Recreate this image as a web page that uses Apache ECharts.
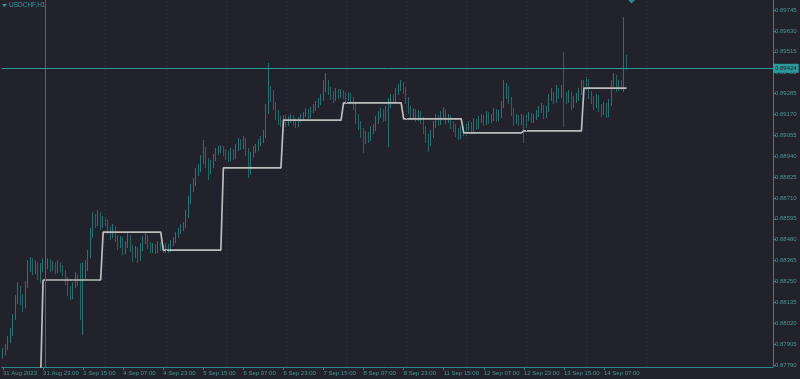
<!DOCTYPE html>
<html><head><meta charset="utf-8">
<script src="https://cdn.jsdelivr.net/npm/echarts@6/dist/echarts.min.js"></script>
<style>html,body{margin:0;padding:0;background:#22222c;}#c{width:800px;height:379px;}</style>
</head><body><div id="c"></div>
<script>
const symbolName = 'USDCHF,H1';
const tickLabels = ['31 Aug 2023','31 Aug 23:00','1 Sep 15:00','4 Sep 07:00','4 Sep 23:00','5 Sep 15:00','6 Sep 07:00','6 Sep 23:00','7 Sep 15:00','8 Sep 07:00','8 Sep 23:00','11 Sep 15:00','12 Sep 07:00','12 Sep 23:00','13 Sep 15:00','14 Sep 07:00'];
const priceTicks = [0.87790,0.87905,0.88020,0.88135,0.88250,0.88365,0.88480,0.88595,0.88710,0.88825,0.88940,0.89055,0.89170,0.89285,0.89400,0.89515,0.89630,0.89745];

const opens = [0.87844,0.87860,0.87882,0.87927,0.87965,0.88048,0.88147,0.88202,0.88158,0.88119,
0.88230,0.88323,0.88356,0.88312,0.88340,0.88301,0.88323,0.88345,0.88334,0.88356,
0.88323,0.88345,0.88312,0.88345,0.88323,0.88301,0.88257,0.88202,0.88169,0.88230,
0.88268,0.88246,0.88147,0.88285,0.88323,0.88395,0.88505,0.88599,0.88577,0.88615,
0.88560,0.88588,0.88577,0.88533,0.88505,0.88544,0.88489,0.88450,0.88478,0.88423,
0.88450,0.88489,0.88434,0.88395,0.88423,0.88378,0.88434,0.88478,0.88489,0.88450,
0.88423,0.88445,0.88423,0.88456,0.88434,0.88423,0.88445,0.88423,0.88456,0.88478,
0.88505,0.88522,0.88544,0.88560,0.88615,0.88698,0.88764,0.88797,0.88852,0.88874,
0.88918,0.88974,0.88907,0.88863,0.88891,0.88929,0.88963,0.88974,0.88985,0.88963,
0.88946,0.88929,0.88963,0.88940,0.88985,0.89018,0.88996,0.89029,0.88974,0.88852,
0.88946,0.88974,0.88985,0.89012,0.89029,0.89056,0.89194,0.89293,0.89260,0.89221,
0.89166,0.89139,0.89128,0.89150,0.89122,0.89139,0.89150,0.89128,0.89111,0.89139,
0.89150,0.89166,0.89183,0.89166,0.89194,0.89205,0.89221,0.89238,0.89260,0.89315,
0.89348,0.89304,0.89277,0.89260,0.89293,0.89277,0.89293,0.89277,0.89260,0.89271,
0.89249,0.89221,0.89150,0.89111,0.89073,0.89029,0.89056,0.89040,0.89084,0.89095,
0.89139,0.89166,0.89183,0.89150,0.89194,0.89221,0.89260,0.89249,0.89293,0.89315,
0.89332,0.89304,0.89249,0.89194,0.89166,0.89183,0.89150,0.89172,0.89139,0.89084,
0.89040,0.89018,0.89056,0.89111,0.89150,0.89128,0.89166,0.89183,0.89139,0.89150,
0.89111,0.89095,0.89073,0.89056,0.89084,0.89073,0.89095,0.89111,0.89084,0.89128,
0.89106,0.89139,0.89150,0.89128,0.89166,0.89139,0.89150,0.89183,0.89150,0.89166,
0.89221,0.89277,0.89304,0.89249,0.89183,0.89139,0.89150,0.89128,0.89150,0.89111,
0.89150,0.89161,0.89139,0.89155,0.89172,0.89194,0.89205,0.89166,0.89194,0.89260,
0.89277,0.89249,0.89293,0.89277,0.89304,0.89271,0.89249,0.89277,0.89221,0.89249,
0.89260,0.89293,0.89332,0.89315,0.89348,0.89277,0.89249,0.89221,0.89260,0.89205,
0.89183,0.89216,0.89166,0.89233,0.89332,0.89370,0.89315,0.89337,0.89326,0.89458];

const closes = [0.87860,0.87882,0.87927,0.87965,0.88048,0.88147,0.88202,0.88158,0.88119,0.88230,
0.88323,0.88356,0.88312,0.88340,0.88301,0.88323,0.88345,0.88334,0.88356,0.88323,
0.88345,0.88312,0.88345,0.88323,0.88301,0.88257,0.88202,0.88169,0.88230,0.88268,
0.88246,0.88147,0.88285,0.88323,0.88395,0.88505,0.88599,0.88577,0.88615,0.88560,
0.88588,0.88577,0.88533,0.88505,0.88544,0.88489,0.88450,0.88478,0.88423,0.88450,
0.88489,0.88434,0.88395,0.88423,0.88378,0.88434,0.88478,0.88489,0.88450,0.88423,
0.88445,0.88423,0.88456,0.88434,0.88423,0.88445,0.88423,0.88456,0.88478,0.88505,
0.88522,0.88544,0.88560,0.88615,0.88698,0.88764,0.88797,0.88852,0.88874,0.88918,
0.88974,0.88907,0.88863,0.88891,0.88929,0.88963,0.88974,0.88985,0.88963,0.88946,
0.88929,0.88963,0.88940,0.88985,0.89018,0.88996,0.89029,0.88974,0.88852,0.88946,
0.88974,0.88985,0.89012,0.89029,0.89056,0.89194,0.89293,0.89260,0.89221,0.89166,
0.89139,0.89128,0.89150,0.89122,0.89139,0.89150,0.89128,0.89111,0.89139,0.89150,
0.89166,0.89183,0.89166,0.89194,0.89205,0.89221,0.89238,0.89260,0.89315,0.89348,
0.89304,0.89277,0.89260,0.89293,0.89277,0.89293,0.89277,0.89260,0.89271,0.89249,
0.89221,0.89150,0.89111,0.89073,0.89029,0.89056,0.89040,0.89084,0.89095,0.89139,
0.89166,0.89183,0.89150,0.89194,0.89221,0.89260,0.89249,0.89293,0.89315,0.89332,
0.89304,0.89249,0.89194,0.89166,0.89183,0.89150,0.89172,0.89139,0.89084,0.89040,
0.89018,0.89056,0.89111,0.89150,0.89128,0.89166,0.89183,0.89139,0.89150,0.89111,
0.89095,0.89073,0.89056,0.89084,0.89073,0.89095,0.89111,0.89084,0.89128,0.89106,
0.89139,0.89150,0.89128,0.89166,0.89139,0.89150,0.89183,0.89150,0.89166,0.89221,
0.89277,0.89304,0.89249,0.89183,0.89139,0.89150,0.89128,0.89150,0.89111,0.89150,
0.89161,0.89139,0.89155,0.89172,0.89194,0.89205,0.89166,0.89194,0.89260,0.89277,
0.89249,0.89293,0.89277,0.89304,0.89271,0.89249,0.89277,0.89221,0.89249,0.89260,
0.89293,0.89332,0.89315,0.89348,0.89277,0.89249,0.89221,0.89260,0.89205,0.89183,
0.89216,0.89166,0.89233,0.89332,0.89370,0.89315,0.89337,0.89326,0.89458,0.89424];

const highs = [0.87882,0.87905,0.87949,0.87993,0.88070,0.88175,0.88246,0.88224,0.88180,0.88252,
0.88367,0.88384,0.88378,0.88367,0.88356,0.88351,0.88378,0.88367,0.88378,0.88373,
0.88362,0.88356,0.88367,0.88356,0.88340,0.88312,0.88274,0.88224,0.88246,0.88301,
0.88290,0.88351,0.88356,0.88367,0.88423,0.88544,0.88632,0.88621,0.88643,0.88632,
0.88610,0.88604,0.88593,0.88555,0.88566,0.88555,0.88505,0.88500,0.88494,0.88472,
0.88516,0.88505,0.88450,0.88445,0.88439,0.88461,0.88500,0.88516,0.88505,0.88467,
0.88461,0.88456,0.88472,0.88467,0.88450,0.88461,0.88456,0.88478,0.88494,0.88522,
0.88544,0.88566,0.88577,0.88643,0.88720,0.88786,0.88819,0.88874,0.88896,0.88946,
0.89029,0.88990,0.88929,0.88918,0.88952,0.88985,0.88996,0.89001,0.88996,0.88979,
0.88968,0.88985,0.88979,0.89007,0.89040,0.89034,0.89051,0.89040,0.88985,0.88963,
0.88996,0.89007,0.89034,0.89051,0.89084,0.89227,0.89453,0.89326,0.89304,0.89238,
0.89194,0.89161,0.89166,0.89166,0.89161,0.89172,0.89166,0.89150,0.89155,0.89172,
0.89183,0.89205,0.89199,0.89210,0.89227,0.89244,0.89260,0.89282,0.89359,0.89398,
0.89359,0.89321,0.89299,0.89315,0.89310,0.89310,0.89304,0.89293,0.89293,0.89288,
0.89266,0.89233,0.89172,0.89133,0.89095,0.89078,0.89073,0.89106,0.89117,0.89161,
0.89188,0.89205,0.89199,0.89216,0.89260,0.89282,0.89282,0.89315,0.89337,0.89359,
0.89348,0.89321,0.89266,0.89216,0.89205,0.89199,0.89194,0.89188,0.89155,0.89106,
0.89062,0.89084,0.89133,0.89172,0.89166,0.89188,0.89210,0.89199,0.89172,0.89166,
0.89133,0.89117,0.89095,0.89106,0.89100,0.89117,0.89133,0.89128,0.89150,0.89144,
0.89161,0.89172,0.89166,0.89188,0.89183,0.89172,0.89205,0.89199,0.89194,0.89244,
0.89359,0.89343,0.89326,0.89266,0.89205,0.89172,0.89166,0.89172,0.89166,0.89172,
0.89183,0.89177,0.89172,0.89194,0.89216,0.89233,0.89221,0.89216,0.89282,0.89315,
0.89293,0.89332,0.89315,0.89332,0.89513,0.89293,0.89304,0.89293,0.89271,0.89288,
0.89315,0.89359,0.89359,0.89376,0.89365,0.89299,0.89271,0.89282,0.89277,0.89227,
0.89238,0.89233,0.89255,0.89359,0.89398,0.89387,0.89359,0.89359,0.89706,0.89497];

const lows = [0.87827,0.87844,0.87872,0.87910,0.87949,0.88037,0.88125,0.88119,0.88081,0.88103,
0.88213,0.88301,0.88285,0.88290,0.88257,0.88241,0.88301,0.88312,0.88318,0.88301,
0.88307,0.88290,0.88296,0.88301,0.88279,0.88230,0.88169,0.88147,0.88152,0.88213,
0.88224,0.88037,0.87954,0.88263,0.88307,0.88378,0.88489,0.88544,0.88555,0.88533,
0.88544,0.88555,0.88511,0.88478,0.88489,0.88467,0.88423,0.88434,0.88395,0.88400,
0.88434,0.88412,0.88356,0.88378,0.88351,0.88362,0.88417,0.88456,0.88428,0.88406,
0.88406,0.88400,0.88406,0.88417,0.88406,0.88406,0.88406,0.88412,0.88445,0.88461,
0.88489,0.88511,0.88527,0.88544,0.88599,0.88676,0.88742,0.88775,0.88830,0.88852,
0.88896,0.88874,0.88808,0.88841,0.88874,0.88913,0.88946,0.88957,0.88940,0.88918,
0.88907,0.88913,0.88918,0.88924,0.88968,0.88974,0.88979,0.88940,0.88819,0.88836,
0.88929,0.88957,0.88968,0.88996,0.89012,0.89040,0.89172,0.89238,0.89194,0.89139,
0.89111,0.89100,0.89111,0.89100,0.89106,0.89122,0.89106,0.89095,0.89100,0.89128,
0.89133,0.89155,0.89144,0.89150,0.89177,0.89188,0.89205,0.89221,0.89244,0.89293,
0.89277,0.89249,0.89233,0.89244,0.89255,0.89260,0.89255,0.89238,0.89244,0.89227,
0.89194,0.89117,0.89084,0.89040,0.88957,0.89007,0.89012,0.89023,0.89062,0.89078,
0.89117,0.89150,0.89128,0.89133,0.88990,0.89205,0.89227,0.89233,0.89277,0.89299,
0.89282,0.89227,0.89172,0.89139,0.89150,0.89128,0.89133,0.89117,0.89062,0.89012,
0.88963,0.88996,0.89040,0.89095,0.89106,0.89111,0.89150,0.89117,0.89122,0.89089,
0.89073,0.89045,0.89029,0.89034,0.89051,0.89051,0.89078,0.89062,0.89067,0.89084,
0.89089,0.89122,0.89106,0.89111,0.89117,0.89122,0.89133,0.89128,0.89133,0.89150,
0.89205,0.89255,0.89227,0.89161,0.89106,0.89117,0.89106,0.89111,0.89012,0.89095,
0.89133,0.89122,0.89122,0.89139,0.89155,0.89177,0.89144,0.89150,0.89183,0.89244,
0.89227,0.89233,0.89255,0.89260,0.89100,0.89227,0.89233,0.89194,0.89205,0.89233,
0.89244,0.89277,0.89299,0.89299,0.89255,0.89227,0.89194,0.89205,0.89183,0.89155,
0.89166,0.89150,0.89155,0.89216,0.89315,0.89293,0.89299,0.89304,0.89293,0.89414];

// daily step level (start bar index of each level, and level price)
const stepStart = [0,16,40,64,88,112,136,160,184,208,232];
const stepLevel = [0.87700,0.88258,0.88522,0.88423,0.88875,0.89139,0.89233,0.89145,0.89068,0.89079,0.89315];

const bidPrice = 0.89424;
const vLineIdx = 17;
const separatorIdx = [17,41,65,89,113,137,161,185,209,233,257];
const markerIdx = [251];
const markerPrice = [0.89800];
const slotCount = 308;

// hourly category names (trading hours, weekends skipped)
const categories = [];
(function(){
  let t = Date.UTC(2023,7,31,7);
  const mon = ['Jan','Feb','Mar','Apr','May','Jun','Jul','Aug','Sep','Oct','Nov','Dec'];
  while (categories.length < slotCount) {
    const d = new Date(t);
    const wd = d.getUTCDay();
    if (wd !== 0 && wd !== 6) {
      categories.push(d.getUTCDate() + ' ' + mon[d.getUTCMonth()] + ' ' + String(d.getUTCHours()).padStart(2,'0') + ':00');
    }
    t += 3600000;
  }
})();

const candleData = opens.map((o, i) => [o, closes[i], lows[i], highs[i]]);
const stepData = [];
stepStart.forEach((s, k) => {
  const e = (k + 1 < stepStart.length ? stepStart[k + 1] : opens.length) - 1;
  stepData.push([s, stepLevel[k]]);
  stepData.push([e, stepLevel[k]]);
});

const FONT = "'Liberation Sans',Arial,sans-serif";
const FS = 6;
const axisColor = '#2a8a8a';
const labelColor = '#4a9494';
const candleUp = '#2a7373';
const candleDown = '#256566';
const bidColor = '#2a9a9a';
const vColor = '#237a7a';

const chart = echarts.init(document.getElementById('c'), null, {renderer: 'canvas'});
const isTick = (i) => i % 16 === 0 && i / 16 < tickLabels.length;
chart.setOption({
  backgroundColor: '#22222c',
  animation: false,
  grid: {left: -1, right: 27, top: 0, bottom: 12, containLabel: false},
  title: {text: symbolName, left: 9, top: 2, padding: 0, textStyle: {fontSize: 6.5, color: '#3a9c9c', fontWeight: 'normal', fontFamily: FONT}},
  graphic: [{type: 'polygon', shape: {points: [[2,4],[7,4],[4.5,7]]}, style: {fill: '#3a9c9c'}}],
  xAxis: {
    type: 'category', data: categories, boundaryGap: true,
    axisLine: {show: true, lineStyle: {color: axisColor, width: 1}},
    axisTick: {show: true, alignWithLabel: true, interval: isTick, length: 3, lineStyle: {color: axisColor}},
    axisLabel: {interval: isTick, formatter: (v, i) => tickLabels[i / 16], align: 'left', margin: 3,
      color: labelColor, fontSize: FS, fontFamily: FONT, hideOverlap: false},
    splitLine: {show: false}
  },
  yAxis: {
    type: 'value', position: 'right', min: 0.87779, max: 0.89800, scale: true,
    axisLine: {show: true, lineStyle: {color: axisColor, width: 1}},
    axisTick: {show: true, customValues: priceTicks, length: 3, lineStyle: {color: axisColor}},
    axisLabel: {customValues: priceTicks, formatter: (v) => v.toFixed(5), color: labelColor, fontSize: FS, margin: 2, fontFamily: FONT},
    splitLine: {show: false}
  },
  series: [
    {
      type: 'line', data: [], z: 1, silent: true,
      markLine: {
        silent: true, symbol: 'none', animation: false, precision: 5,
        label: {show: false},
        lineStyle: {color: '#363644', type: [1, 3], width: 1},
        data: separatorIdx.map(i => ({xAxis: i}))
      }
    },
    {
      type: 'line', data: [], z: 1, silent: true, color: vColor,
      markLine: {
        silent: true, symbol: 'none', animation: false, precision: 5,
        label: {show: false},
        lineStyle: {color: vColor, type: 'solid', width: 1, opacity: 1},
        data: [{xAxis: vLineIdx}]
      }
    },
    {
      type: 'candlestick', data: candleData, z: 2, barWidth: 1,
      itemStyle: {color: candleUp, color0: candleDown, borderColor: candleUp, borderColor0: candleDown, borderWidth: 1}
    },
    {
      type: 'line', data: stepData, z: 3, symbol: 'none', clip: true, silent: true,
      lineStyle: {color: '#bdbdbd', width: 1.7}
    },
    {
      type: 'line', data: [], z: 4, silent: true, color: bidColor,
      markLine: {
        silent: true, symbol: 'none', animation: false, precision: 5,
        lineStyle: {color: bidColor, width: 1, type: 'solid'},
        data: [
          {yAxis: bidPrice,
           label: {show: true, position: 'end', distance: 0, formatter: bidPrice.toFixed(5),
             backgroundColor: bidColor, color: '#1c1c26', fontSize: FS, fontFamily: FONT, padding: [2, 2, 1, 2]}}
        ]
      }
    },
    {
      type: 'scatter', data: markerIdx.map((x, k) => [x, markerPrice[k]]), symbol: 'diamond', symbolSize: 7,
      itemStyle: {color: '#2fa8a8'}, z: 5, clip: true, silent: true
    }
  ]
});
</script></body></html>
